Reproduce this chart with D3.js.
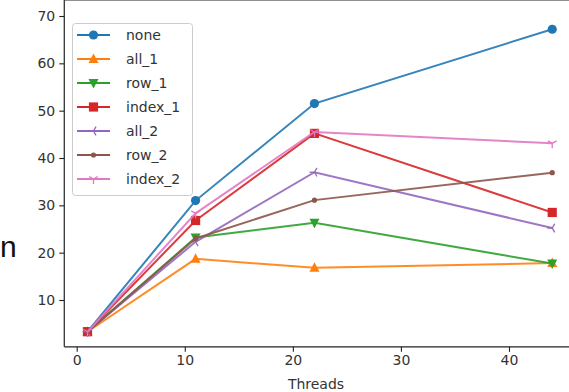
<!DOCTYPE html>
<html>
<head>
<meta charset="utf-8">
<script src="https://cdn.jsdelivr.net/npm/d3@7"></script>
<style>
body { margin: 0; background: #fff; }
svg { display: block; font-family: "DejaVu Sans", sans-serif; }
</style>
</head>
<body>
<div id="chart"></div>
<script>
var threads = [1, 11, 22, 44];
var seriesNames = ["none", "all_1", "row_1", "index_1", "all_2", "row_2", "index_2"];
var none = [3.3, 31.0, 51.5, 67.2];
var all_1 = [3.3, 18.7, 16.8, 17.8];
var row_1 = [3.3, 23.2, 26.3, 17.7];
var index_1 = [3.3, 26.8, 45.2, 28.5];
var all_2 = [3.3, 22.3, 37.0, 25.2];
var row_2 = [3.3, 23.0, 31.1, 36.9];
var index_2 = [3.3, 28.3, 45.5, 43.1];
var xTicks = [0, 10, 20, 30, 40];
var yTicks = [10, 20, 30, 40, 50, 60, 70];

var values = [none, all_1, row_1, index_1, all_2, row_2, index_2];
var colors = ["#1f77b4", "#ff7f0e", "#2ca02c", "#d62728", "#9467bd", "#8c564b", "#e377c2"];
var markers = ["circle", "triUp", "triDown", "square", "triLeft", "point", "tri_down"];

var w = 569,
    h = 392;

var svg = d3.select("#chart").append("svg")
    .attr("width", w)
    .attr("height", h);

// matplotlib style 5% padding
var xmin = -1.15, xmax = 46.15, ymin = 0.1, ymax = 70.5;

var x = d3.scaleLinear().domain([0, 40]).range([76.7, 509]);
var y = d3.scaleLinear().domain([10, 70]).range([300, 16]);

var left = x(xmin), right = x(xmax), top = y(ymax), bottom = y(ymin);

// stray letter at the left edge of the picture
svg.append("text")
    .attr("x", 0)
    .attr("y", 257)
    .attr("font-size", 30)
    .attr("font-family", "Liberation Sans, sans-serif")
    .attr("fill", "#111")
    .text("n");

var plot = svg.append("g");

var line = d3.line()
    .x(function(d) { return x(d[0]); })
    .y(function(d) { return y(d[1]); });

function drawMarker(g, kind, cx, cy, color) {
    if (kind == "circle") {
        g.append("circle").attr("cx", cx).attr("cy", cy).attr("r", 4.6).attr("fill", color);
    } else if (kind == "square") {
        g.append("rect").attr("x", cx - 4.6).attr("y", cy - 4.6).attr("width", 9.2).attr("height", 9.2).attr("fill", color);
    } else if (kind == "triUp" || kind == "triDown") {
        var s = kind == "triUp" ? 1 : -1;
        g.append("path")
            .attr("d", "M" + cx + "," + (cy - 5.5 * s) + "L" + (cx + 5) + "," + (cy + 4 * s) + "L" + (cx - 5) + "," + (cy + 4 * s) + "Z")
            .attr("fill", color);
    } else if (kind == "point") {
        g.append("circle").attr("cx", cx).attr("cy", cy).attr("r", 2.6).attr("fill", color);
    } else {
        // tri markers made of three strokes
        var angs = kind == "triLeft" ? [180, 60, -60] : [90, -30, -150];
        angs.forEach(function(a) {
            var r = a * Math.PI / 180;
            g.append("line")
                .attr("x1", cx).attr("y1", cy)
                .attr("x2", cx + 5 * Math.cos(r)).attr("y2", cy + 5 * Math.sin(r))
                .attr("stroke", color).attr("stroke-width", 1.3);
        });
    }
}

values.forEach(function(v, i) {
    var pts = threads.map(function(t, j) { return [t, v[j]]; });
    var g = plot.append("g").attr("class", "series");
    g.append("path")
        .attr("d", line(pts))
        .attr("fill", "none")
        .attr("stroke", colors[i])
        .attr("stroke-width", 2)
        .attr("stroke-opacity", 0.9);
    pts.forEach(function(p) {
        drawMarker(g, markers[i], x(p[0]), y(p[1]), colors[i]);
    });
});

// spines
var frame = svg.append("g").attr("stroke", "#222").attr("stroke-width", 1.2);
frame.append("line").attr("x1", left).attr("x2", left).attr("y1", top).attr("y2", bottom);
frame.append("line").attr("x1", left).attr("x2", right).attr("y1", bottom).attr("y2", bottom);
frame.append("line").attr("x1", left).attr("x2", right).attr("y1", top).attr("y2", top);
frame.append("line").attr("x1", right).attr("x2", right).attr("y1", top).attr("y2", bottom);

var xAxis = svg.append("g")
    .attr("transform", "translate(0," + bottom + ")")
    .call(d3.axisBottom(x).tickValues(xTicks).tickSize(5).tickPadding(3));
var yAxis = svg.append("g")
    .attr("transform", "translate(" + left + ",0)")
    .call(d3.axisLeft(y).tickValues(yTicks).tickSize(5).tickPadding(4));

[xAxis, yAxis].forEach(function(a) {
    a.select(".domain").remove();
    a.selectAll("line").attr("stroke", "#222").attr("stroke-width", 1.1);
    a.selectAll("text")
        .attr("font-size", 14)
        .attr("font-family", "DejaVu Sans, sans-serif")
        .attr("fill", "#333");
});

svg.append("text")
    .attr("x", 316)
    .attr("y", 389)
    .attr("text-anchor", "middle")
    .attr("font-size", 14)
    .attr("fill", "#333")
    .text("Threads");

svg.append("text")
    .attr("transform", "translate(20," + (top + bottom) / 2 + ") rotate(-90)")
    .attr("text-anchor", "middle")
    .attr("font-size", 14)
    .attr("fill", "#333")
    .text("tpmC");

// legend
var lg = svg.append("g");
lg.append("rect")
    .attr("x", 72.5).attr("y", 23.5)
    .attr("width", 120).attr("height", 172)
    .attr("rx", 3)
    .attr("fill", "#fff").attr("fill-opacity", 0.8)
    .attr("stroke", "#ccc");

seriesNames.forEach(function(name, i) {
    var yy = 35 + i * 24;
    lg.append("line")
        .attr("x1", 77).attr("x2", 110)
        .attr("y1", yy).attr("y2", yy)
        .attr("stroke", colors[i]).attr("stroke-width", 2);
    drawMarker(lg, markers[i], 93.5, yy, colors[i]);
    lg.append("text")
        .attr("x", 126).attr("y", yy + 5)
        .attr("font-size", 14)
        .attr("fill", "#333")
        .text(name);
});
</script>
</body>
</html>
